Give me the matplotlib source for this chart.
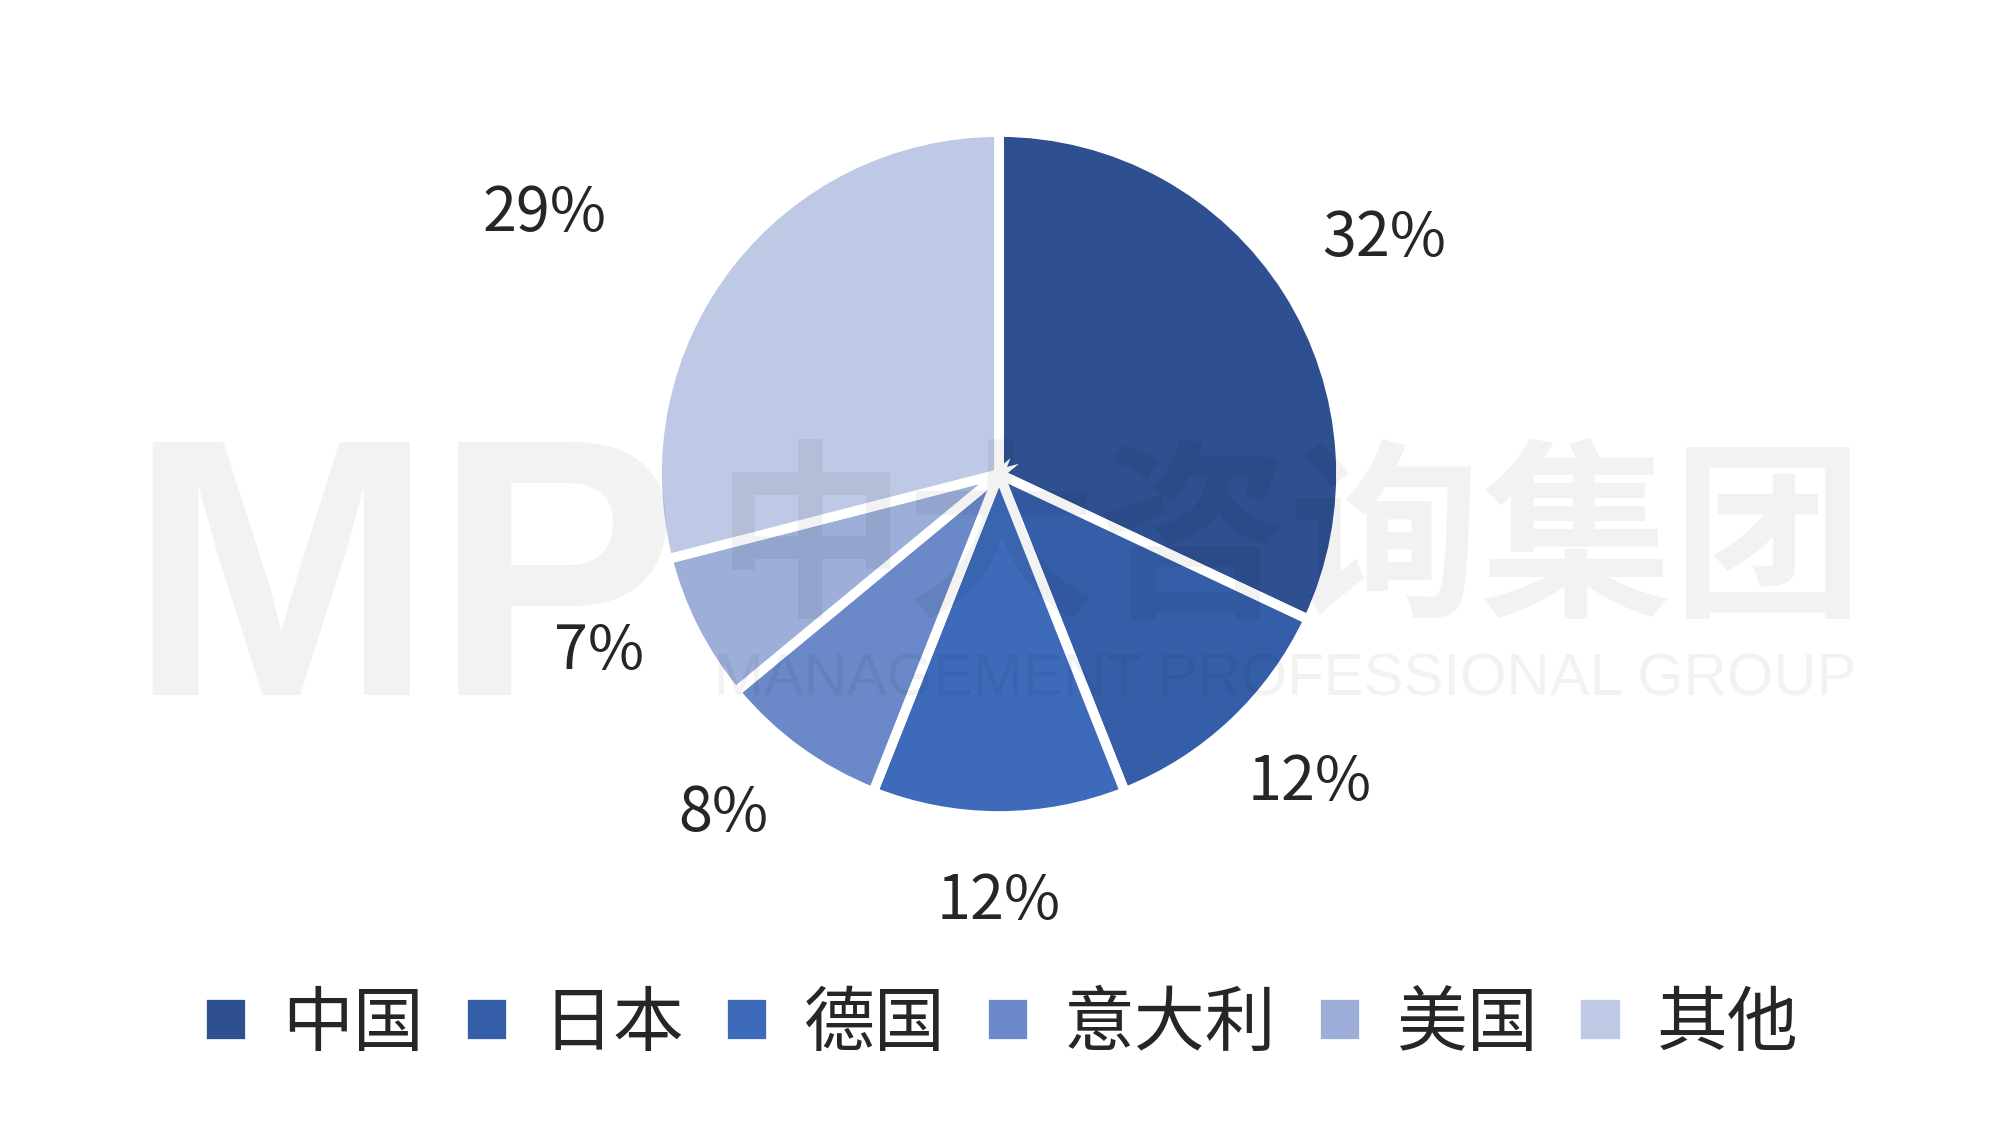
import numpy as np
import matplotlib
matplotlib.use("Agg")
import matplotlib.pyplot as plt

plt.rcParams['font.family'] = ['Noto Sans CJK SC', 'DejaVu Sans']

# data
countries = ["中国", "日本", "德国", "意大利", "美国", "其他"]
shares = [32, 12, 12, 8, 7, 29]
colours = ["#2E5090", "#355EA8", "#3D6BBA", "#6B88C8", "#9DAED9", "#BDC9E5"]
# label distance (in radii) and angle nudge (deg) for each percentage label
label_dist = [1.32, 1.28, 1.25, 1.28, 1.28, 1.53]
label_nudge = [-1, 2, 0, -3, -3, 8]

W, H = 2000, 1143
fig = plt.figure(figsize=(W / 100, H / 100), dpi=100)
ax = fig.add_axes([0, 0, 1, 1])

cx, cy, R = 999, H - 474, 342

wedges, _ = ax.pie(shares, colors=colours, startangle=90, counterclock=False,
                   center=(cx, cy), radius=R, frame=True,
                   wedgeprops=dict(edgecolor="white", linewidth=7))
ax.set_xlim(0, W)
ax.set_ylim(0, H)
ax.axis("off")

for w, v, d, n in zip(wedges, shares, label_dist, label_nudge):
    ang = np.deg2rad((w.theta1 + w.theta2) / 2 + n)
    ax.text(cx + d * R * np.cos(ang), cy + d * R * np.sin(ang), "{}%".format(v),
            ha="center", va="center", fontsize=44, color="#262626")

leg = ax.legend(wedges, countries, loc="center", bbox_to_anchor=(0.5, 0.104),
                ncol=6, frameon=False, fontsize=51, handlelength=0.68,
                handleheight=0.68, handletextpad=0.45, columnspacing=0.55,
                labelcolor="#262626")

# watermark
wm = dict(color="black", alpha=0.05, zorder=10)
ax.text(100 * 1.2755, H - 470 * 1.2755, "MP", fontsize=265, fontweight="bold",
        ha="left", va="center", family="Liberation Sans", **wm)
ax.text(560 * 1.2755, H - 428 * 1.2755, "中大咨询集团", fontsize=138,
        fontweight="bold", ha="left", va="center", **wm)
ax.text(560 * 1.2755, H - 533 * 1.2755, "MANAGEMENT PROFESSIONAL GROUP",
        fontsize=43, ha="left", va="center", family="Liberation Sans", **wm)

plt.savefig("out.png", dpi=100)
plt.close()
